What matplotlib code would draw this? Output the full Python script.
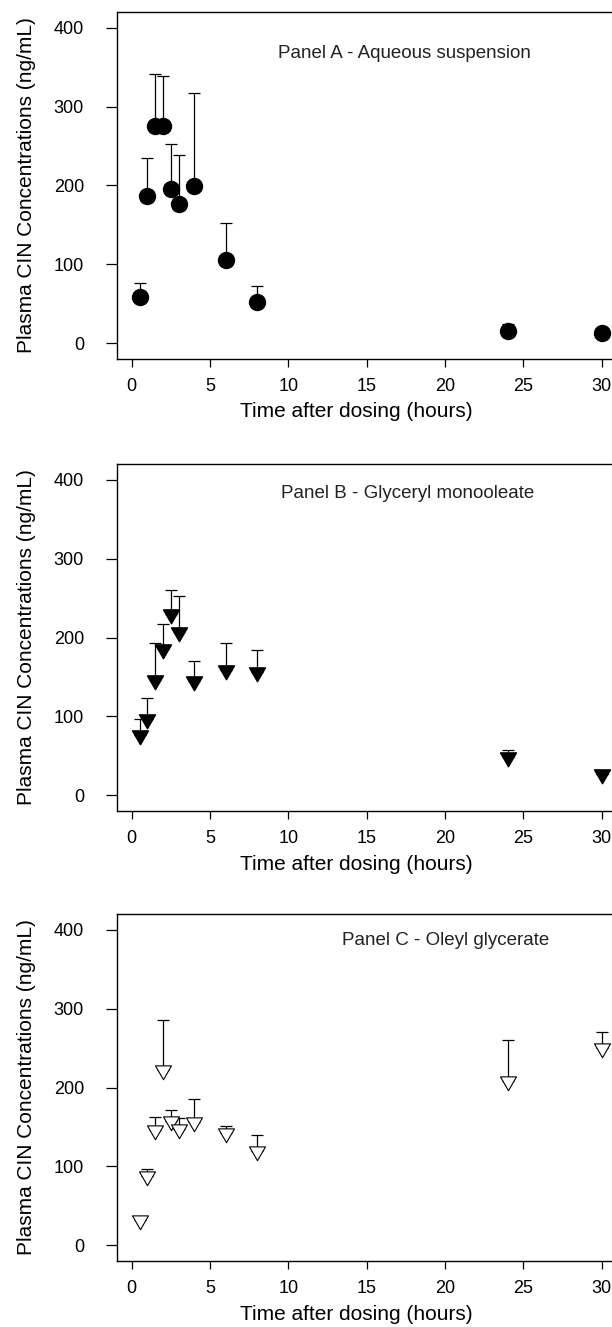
import numpy as np
import matplotlib
matplotlib.use("Agg")
import matplotlib.pyplot as plt
from matplotlib.path import Path

plt.rcParams['font.family'] = ['Liberation Sans', 'DejaVu Sans']

# sampling times (hours)
times = [0.5, 1, 1.5, 2, 2.5, 3, 4, 6, 8, 24, 30]

# panel A - aqueous suspension (mean, upper SD)
a_mean = [59, 187, 275, 276, 196, 176, 199, 105, 52, 16, 13]
a_err = [18, 48, 67, 63, 56, 63, 118, 48, 20, 9, 0]

# panel B - glyceryl monooleate
b_mean = [76, 97, 146, 185, 230, 207, 145, 159, 156, 49, 27]
b_err = [21, 26, 47, 32, 30, 46, 25, 34, 28, 8, 0]

# panel C - oleyl glycerate
c_mean = [32, 88, 146, 222, 158, 148, 156, 142, 119, 208, 250]
c_err = [3, 9, 17, 64, 13, 13, 30, 9, 21, 52, 21]

titles = ["Panel A - Aqueous suspension",
          "Panel B - Glyceryl monooleate",
          "Panel C - Oleyl glycerate"]
x_ticks = [0, 5, 10, 15, 20, 25, 30]
y_ticks = [0, 100, 200, 300, 400]

# R-style down triangle (centroid at data point)
s3 = np.sqrt(3)
tri_down = Path([(-1, 1 / s3), (1, 1 / s3), (0, -2 / s3), (-1, 1 / s3)],
                [Path.MOVETO, Path.LINETO, Path.LINETO, Path.CLOSEPOLY])

W, H = 612, 1327
fig = plt.figure(figsize=(W / 100, H / 100), dpi=100)

# px boxes: (left, top, bottom) ; right edge runs past the image
boxes = [(116.7, 12, 359), (116.7, 464, 811), (116.7, 914, 1261)]
px_per_unit = 15.67
x_left = -0.96
x_right = 32.4
ax_w = (x_right - x_left) * px_per_unit

panels = [
    (a_mean, a_err, dict(marker='o', markersize=11.5, markerfacecolor='black',
                         markeredgecolor='black'), (17.4, 368)),
    (b_mean, b_err, dict(marker=tri_down, markersize=13.3, markerfacecolor='black',
                         markeredgecolor='black'), (17.6, 382)),
    (c_mean, c_err, dict(marker=tri_down, markersize=13.3, markerfacecolor='white',
                         markeredgecolor='black', markeredgewidth=0.8), (20.0, 387)),
]

for (left, top, bottom), (mean, err, mstyle, tpos), title in zip(boxes, panels, titles):
    ax = fig.add_axes([left / W, 1 - bottom / H, ax_w / W, (bottom - top) / H])
    zero = np.zeros(len(err))
    ax.errorbar(times, mean, yerr=[zero, err], fmt='none', ecolor='black',
                elinewidth=0.9, capsize=4, capthick=0.9, zorder=2)
    ax.plot(times, mean, linestyle='none', zorder=3, clip_on=False, **mstyle)
    ax.set_xlim(x_left, x_right)
    ax.set_ylim(-20, 420)
    ax.set_xticks(x_ticks)
    ax.set_yticks(y_ticks)
    ax.tick_params(axis='both', direction='out', width=0.9,
                   labelsize=13, colors='black')
    ax.tick_params(axis='y', length=8, pad=15.5)
    ax.tick_params(axis='x', length=5.5, pad=8)
    for sp in ax.spines.values():
        sp.set_linewidth(1.0)
    ax.text(tpos[0], tpos[1], title, ha='center', va='center', fontsize=13.5,
            color='#222222')
    ax.set_xlabel("Time after dosing (hours)", fontsize=15, va='center')
    ax.xaxis.set_label_coords((356 - left) / ax_w, -(53) / (bottom - top))
    ax.set_ylabel("Plasma CIN Concentrations (ng/mL)", fontsize=15, va='center')
    ax.yaxis.set_label_coords((27 - left) / ax_w, 0.5)

fig.savefig("out.png", dpi=100)
